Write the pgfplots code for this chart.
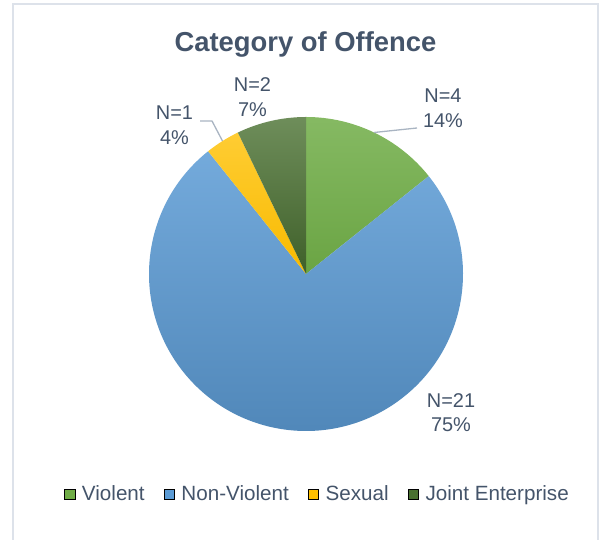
\documentclass[border=0pt]{standalone}
\usepackage{fontspec}
\setmainfont{Liberation Sans}
\usepackage{pgfplots}
\pgfplotsset{compat=1.18}
\usepackage{pgfplotstable}

\definecolor{slate}{HTML}{44546A}
\definecolor{violent}{HTML}{70AD47}
\definecolor{nonviolent}{HTML}{5B9BD5}
\definecolor{sexual}{HTML}{FFC000}
\definecolor{joint}{HTML}{4A7131}
\definecolor{framegrey}{HTML}{DDE2EA}
\definecolor{leader}{HTML}{A9B4C2}

% counts per category of offence
\pgfplotstableread{
category value
Violent 4
Non-Violent 21
Sexual 1
Joint 2
}\offence

\begin{document}
\begin{tikzpicture}
\pgfplotstablegetelem{0}{value}\of\offence \let\vA\pgfplotsretval
\pgfplotstablegetelem{1}{value}\of\offence \let\vB\pgfplotsretval
\pgfplotstablegetelem{2}{value}\of\offence \let\vC\pgfplotsretval
\pgfplotstablegetelem{3}{value}\of\offence \let\vD\pgfplotsretval
\pgfmathsetmacro\total{\vA+\vB+\vC+\vD}
\pgfmathsetmacro\aA{90}
\pgfmathsetmacro\aB{\aA-360*\vA/\total}
\pgfmathsetmacro\aC{\aB-360*\vB/\total}
\pgfmathsetmacro\aD{\aC-360*\vC/\total}
\pgfmathsetmacro\aE{\aD-360*\vD/\total}
\begin{axis}[
  x=1bp, y=1bp,
  xmin=0, xmax=601, ymin=0, ymax=540,
  scale only axis, hide axis, clip=false,
  legend columns=4,
  legend image code/.code={\fill[#1] (0bp,-5.2bp) rectangle (10.4bp,5.2bp);},
  legend style={draw=none, fill=none, at={(axis cs:316.5,46)}, anchor=center,
    font=\fontsize{20.7}{24}\selectfont, text=slate,
    nodes={inner sep=0pt},
    /tikz/every odd column/.append style={column sep=7bp},
    /tikz/every even column/.append style={column sep=19bp}},
]
\addlegendimage{fill=violent}
\addlegendentry{Violent}
\addlegendimage{fill=nonviolent}
\addlegendentry{Non-Violent}
\addlegendimage{fill=sexual}
\addlegendentry{Sexual}
\addlegendimage{fill=joint}
\addlegendentry{Joint Enterprise}

% chart frame
\draw[framegrey, line width=2bp] (axis cs:12.5,0) -- (axis cs:12.5,535.5)
  -- (axis cs:598,535.5) -- (axis cs:598,0);

% slices
\shade[top color=violent!85!white, bottom color=violent!95!black]
  (axis cs:306,266) -- ++(\aA:157bp) arc[start angle=\aA, end angle=\aB, radius=157bp] -- cycle;
\shade[top color=nonviolent!85!white, bottom color=nonviolent!86!black]
  (axis cs:306,266) -- ++(\aB:157bp) arc[start angle=\aB, end angle=\aC, radius=157bp] -- cycle;
\shade[top color=sexual!80!white, bottom color=sexual!97!black]
  (axis cs:306,266) -- ++(\aC:157bp) arc[start angle=\aC, end angle=\aD, radius=157bp] -- cycle;
\shade[top color=joint!80!white, bottom color=joint!85!black]
  (axis cs:306,266) -- ++(\aD:157bp) arc[start angle=\aD, end angle=\aE, radius=157bp] -- cycle;

% leader lines
\draw[leader, line width=1.3bp] (axis cs:374,407.5) -- (axis cs:417,412);
\draw[leader, line width=1.3bp] (axis cs:222.5,399) -- (axis cs:212,419) -- (axis cs:200,419);

% title and data labels
\node[anchor=base, text=slate, font=\fontsize{27.5}{33}\bfseries\selectfont]
  at (axis cs:305.5,488) {Category of Offence};
\begin{scope}[every node/.style={anchor=base, text=slate, font=\fontsize{20}{24}\selectfont}]
\node at (axis cs:443,437) {N=4};
\node at (axis cs:443,412) {14\%};
\node at (axis cs:451,132) {N=21};
\node at (axis cs:451,108) {75\%};
\node at (axis cs:174.5,420) {N=1};
\node at (axis cs:174.5,395) {4\%};
\node at (axis cs:252.5,448) {N=2};
\node at (axis cs:252.5,423) {7\%};
\end{scope}
\end{axis}
\pgfresetboundingbox
\useasboundingbox (current axis.south west) rectangle (current axis.north east);
\end{tikzpicture}
\end{document}
